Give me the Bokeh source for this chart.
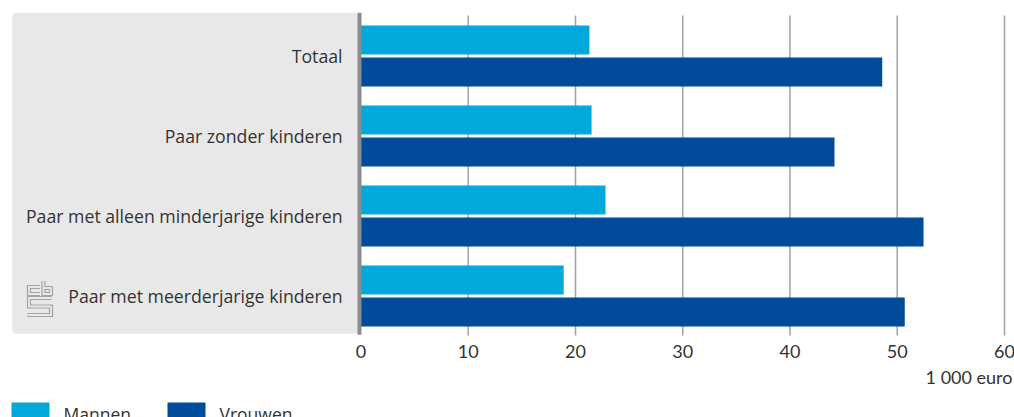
from bokeh.plotting import figure
from bokeh.models import Range1d
from bokeh.core.properties import value
from bokeh.embed import file_html
from bokeh.resources import INLINE

# ---- data ----
categories = ["Totaal", "Paar zonder kinderen", "Paar met alleen minderjarige kinderen",
              "Paar met meerderjarige kinderen"]
mannen = [21.3, 21.5, 22.8, 18.9]
vrouwen = [48.6, 44.15, 52.45, 50.7]
series_names = ["Mannen", "Vrouwen"]
x_ticks = [0, 10, 20, 30, 40, 50, 60]
x_tick_labels = ["0", "10", "20", "30", "40", "50", "60"]
unit_label = "1 000 euro"

# ---- layout helpers (pixel -> data) ----
W, H = 1014, 417
PX0, PXK = 360.5, 10.725     # pixel of x=0, pixels per unit
PY0, PYK = 55.5, 80.0        # pixel of first category centre, pixels per category


def X(px):
    return (px - PX0) / PXK


def Y(py):
    return -(py - PY0) / PYK


C_MAN = "#00A9DA"
C_VROUW = "#004C9A"
PANEL = "#e8e8e8"
TXT = "#333333"
FONT = value("Open Sans")
TFONT = value("Lato")

p = figure(width=W, height=H, x_range=Range1d(X(0), X(W)), y_range=Range1d(Y(H), Y(0)),
           output_backend="svg", toolbar_location=None, min_border=0,
           x_axis_location=None, y_axis_location=None)
p.grid.visible = False
p.outline_line_color = None
p.background_fill_color = "white"
p.border_fill_color = "white"

# grey category panel
try:
    p.quad(left=[X(11.7)], right=[X(358)], top=[Y(12.3)], bottom=[Y(333.3)],
           fill_color=PANEL, line_color=None, border_radius=4)
except Exception:
    p.quad(left=[X(11.7)], right=[X(358)], top=[Y(12.3)], bottom=[Y(333.3)],
           fill_color=PANEL, line_color=None)

# gridlines (incl. tick extension)
grid_x = x_ticks[1:]
p.segment(x0=grid_x, y0=[Y(15)] * len(grid_x), x1=grid_x, y1=[Y(335)] * len(grid_x),
          line_color="#a6a6a6", line_width=1.6)

# bars
n = len(categories)
yc = [-i for i in range(n)]
bh = 29 / PYK
off = 16 / PYK
p.hbar(y=[v + off for v in yc], left=0, right=mannen, height=bh, fill_color=C_MAN, line_color=None)
p.hbar(y=[v - off for v in yc], left=0, right=vrouwen, height=bh, fill_color=C_VROUW, line_color=None)

# axis line at 0
p.segment(x0=[X(359)], y0=[Y(12.3)], x1=[X(359)], y1=[Y(334.3)], line_color="#8c8c8c", line_width=4)

# category labels
p.text(x=[X(342)] * n, y=yc, text=categories, text_align="right", text_baseline="middle",
       text_font=FONT, text_font_size="17.7px", text_color=TXT)

# x tick labels
p.text(x=x_ticks, y=[Y(350.5)] * len(x_ticks), text=x_tick_labels, text_align="center",
       text_baseline="middle", text_font=TFONT, text_font_size="18px", text_color=TXT)
p.text(x=[X(1012)], y=[Y(376)], text=[unit_label], text_align="right", text_baseline="middle",
       text_font=TFONT, text_font_size="18px", text_color=TXT)

# legend
p.quad(left=[X(11), X(167)], right=[X(49), X(205)], top=[Y(402)] * 2, bottom=[Y(425)] * 2,
       fill_color=[C_MAN, C_VROUW], line_color=None)
p.text(x=[X(63), X(219)], y=[Y(413)] * 2, text=series_names, text_align="left",
       text_baseline="alphabetic", text_font=FONT, text_font_size="17.5px", text_color=TXT)

# cbs logo (outlined strokes)
logo_paths = [
    [(39.5, 286.5), (28.5, 286.5), (28.5, 293.5), (39.5, 293.5)],
    [(43, 280.5), (43, 293.5), (50.5, 293.5), (50.5, 287.5), (43, 287.5)],
    [(51, 297.5), (28.5, 297.5), (28.5, 306), (50.5, 306), (50.5, 314.5), (27, 314.5)],
]
xs = [[X(a) for a, b in path] for path in logo_paths]
ys = [[Y(b) for a, b in path] for path in logo_paths]
p.multi_line(xs=xs, ys=ys, line_color="#a3a3a3", line_width=4.2, line_join="miter")
p.multi_line(xs=xs, ys=ys, line_color=PANEL, line_width=1.8, line_join="miter")

open("out.html", "w").write(file_html(p, INLINE))
